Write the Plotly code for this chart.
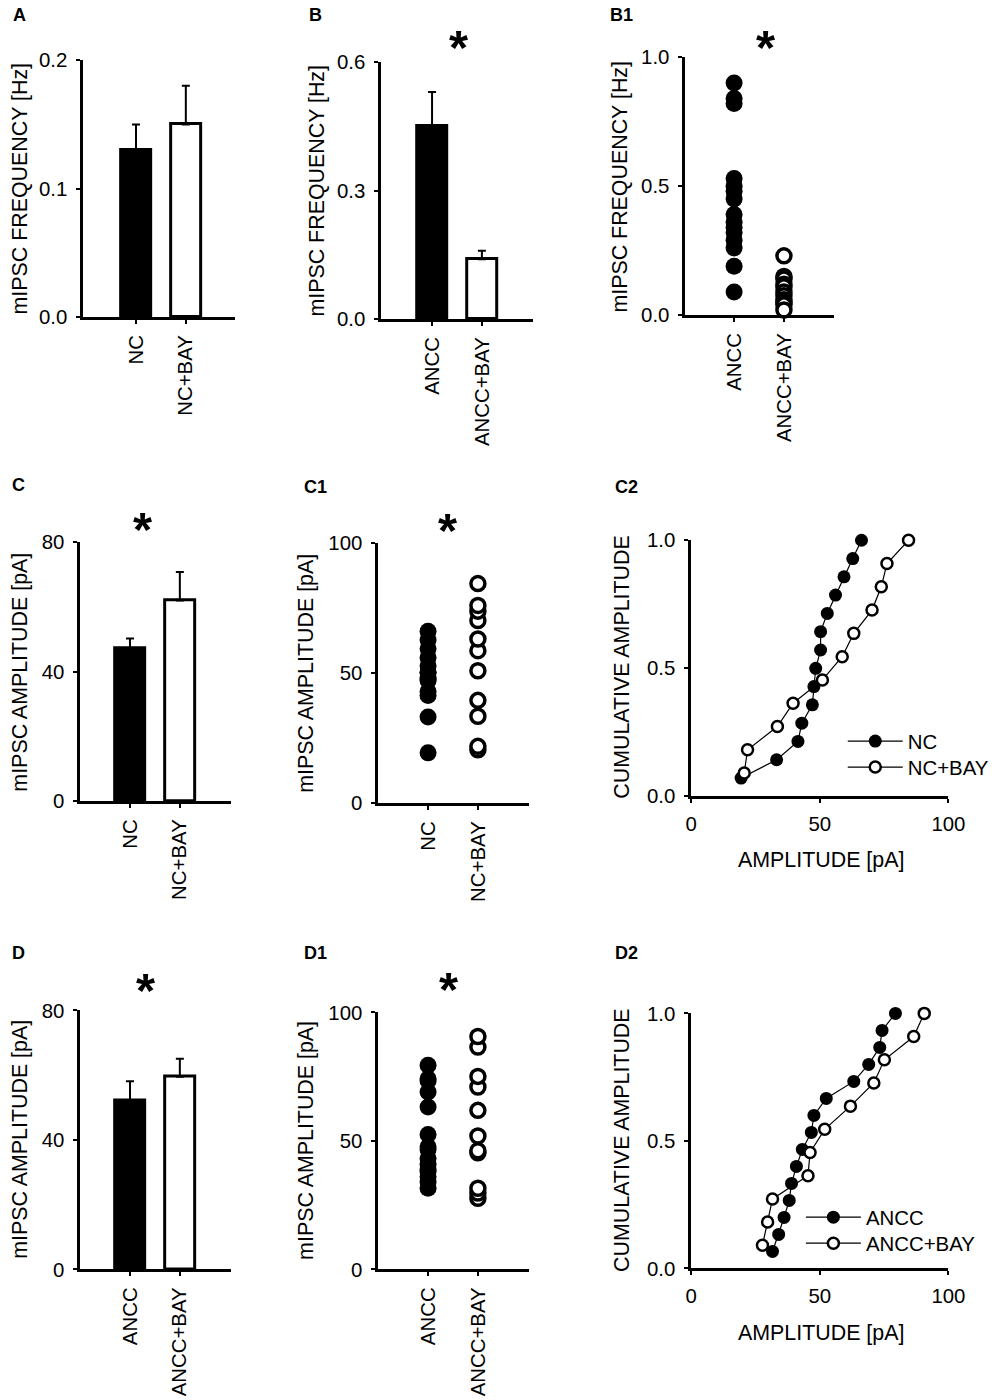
import numpy as np
import plotly.graph_objects as go

# groups
nc_groups = ["NC", "NC+BAY"]
ancc_groups = ["ANCC", "ANCC+BAY"]

# bar charts: mean and SEM
freq_nc_mean = [0.13, 0.15]
freq_nc_sem = [0.02, 0.03]
freq_ancc_mean = [0.45, 0.14]
freq_ancc_sem = [0.08, 0.02]
amp_nc_mean = [47.3, 62.0]
amp_nc_sem = [3.0, 8.8]
amp_ancc_mean = [52.1, 59.5]
amp_ancc_sem = [6.0, 5.6]

# single cells
freq_ancc_cells = [0.90, 0.84, 0.82, 0.53, 0.50, 0.48, 0.45, 0.39, 0.36, 0.34,
                   0.32, 0.29, 0.26, 0.19, 0.09]
freq_ancc_bay_cells = [0.23, 0.15, 0.14, 0.12, 0.11, 0.09, 0.075, 0.06, 0.05, 0.04, 0.02]
amp_nc_cells = [19.4, 33.2, 41.5, 43.0, 47.1, 47.7, 48.4, 50.3, 50.3, 52.9, 56.1,
                59.4, 62.8, 66.2]
amp_nc_bay_cells = [20.6, 21.9, 33.5, 39.6, 51.0, 58.7, 63.2, 70.3, 73.9, 76.1, 84.5]
amp_ancc_cells = [31.6, 34.0, 36.1, 38.1, 39.0, 40.9, 43.2, 46.7, 47.7, 52.5, 63.2,
                  69.0, 73.3, 74.2, 79.4]
amp_ancc_bay_cells = [27.7, 29.7, 31.6, 45.4, 46.2, 51.9, 61.9, 71.0, 75.1, 86.5, 90.6]

W, H = 996, 1400
FONT = "Liberation Sans, Arial, sans-serif"


# page px -> paper coords (corrected for how the page ends up in the screenshot)
def fx(p):
    return ((p - 2.6) / 0.980) / W


def fy(p):
    return 1 - ((p - 10.9) / 0.984) / H


def cumulative(vals):
    v = np.sort(np.array(vals))
    return v, np.arange(1, len(v) + 1) / len(v)


fig = go.Figure()


def bars(n, groups, mean, sem):
    ax = "" if n == 1 else str(n)
    fig.add_trace(go.Bar(
        x=groups, y=mean, width=0.6,
        marker=dict(color=["black", "white"], line=dict(color="black", width=3)),
        error_y=dict(type="data", symmetric=False, array=sem, arrayminus=[0, 0],
                     color="black", thickness=2, width=4),
        xaxis="x" + ax, yaxis="y" + ax, showlegend=False))


def dots(n, groups, a, b):
    ax = str(n)
    fig.add_trace(go.Scatter(
        x=[groups[0]] * len(a), y=a, mode="markers", cliponaxis=False,
        marker=dict(size=17, color="black", line=dict(width=0)),
        xaxis="x" + ax, yaxis="y" + ax, showlegend=False))
    fig.add_trace(go.Scatter(
        x=[groups[1]] * len(b), y=b, mode="markers", cliponaxis=False,
        marker=dict(size=14, color="white", line=dict(color="black", width=3.5)),
        xaxis="x" + ax, yaxis="y" + ax, showlegend=False))


def cum(n, groups, a, b, legs):
    ax = str(n)
    xa, ya = cumulative(a)
    xb, yb = cumulative(b)
    fig.add_trace(go.Scatter(
        x=xa, y=ya, mode="lines+markers", name=groups[0], cliponaxis=False,
        line=dict(color="black", width=1.2),
        marker=dict(size=13, color="black", line=dict(width=0)),
        xaxis="x" + ax, yaxis="y" + ax, legend=legs[0]))
    fig.add_trace(go.Scatter(
        x=xb, y=yb, mode="lines+markers", name=groups[1], cliponaxis=False,
        line=dict(color="black", width=1.2),
        marker=dict(size=11, color="white", line=dict(color="black", width=2.5)),
        xaxis="x" + ax, yaxis="y" + ax, legend=legs[1]))


bars(1, nc_groups, freq_nc_mean, freq_nc_sem)
bars(2, ancc_groups, freq_ancc_mean, freq_ancc_sem)
dots(3, ancc_groups, freq_ancc_cells, freq_ancc_bay_cells)
bars(4, nc_groups, amp_nc_mean, amp_nc_sem)
dots(5, nc_groups, amp_nc_cells, amp_nc_bay_cells)
cum(6, nc_groups, amp_nc_cells, amp_nc_bay_cells, ("legend", "legend2"))
bars(7, ancc_groups, amp_ancc_mean, amp_ancc_sem)
dots(8, ancc_groups, amp_ancc_cells, amp_ancc_bay_cells)
cum(9, ancc_groups, amp_ancc_cells, amp_ancc_bay_cells, ("legend3", "legend4"))

# panel boxes in px: x0, x1, y_top, y_bottom
boxes = {1: (80, 232, 60, 317), 2: (379, 531, 62, 319), 3: (684, 833, 57, 315),
         4: (77, 228, 542, 801), 5: (376, 527, 543, 803), 6: (690, 948, 540, 796),
         7: (77, 228, 1010, 1269), 8: (376, 527, 1012, 1269), 9: (690, 948, 1013, 1268)}
xr = {1: [-1.06, 1.98], 2: [-1.02, 2.02], 3: [-0.98, 2.0], 4: [-1.0, 2.02],
      5: [-1.0, 2.02], 7: [-1.0, 2.02], 8: [-1.0, 2.02]}
yset = {1: ([0, 0.2], [0, 0.1, 0.2], ".1f"), 2: ([0, 0.6], [0, 0.3, 0.6], ".1f"),
        3: ([0, 1], [0, 0.5, 1], ".1f"), 4: ([0, 80], [0, 40, 80], "d"),
        5: ([0, 100], [0, 50, 100], "d"), 6: ([0, 1], [0, 0.5, 1], ".1f"),
        7: ([0, 80], [0, 40, 80], "d"), 8: ([0, 100], [0, 50, 100], "d"),
        9: ([0, 1], [0, 0.5, 1], ".1f")}

base = dict(showline=True, linecolor="black", linewidth=2.5, ticks="outside",
            ticklen=4, tickwidth=1.5, tickcolor="black", showgrid=False,
            zeroline=False, fixedrange=True,
            tickfont=dict(family=FONT, size=20.4, color="black"))

layout_axes = {}
for n, (x0, x1, yt, yb) in boxes.items():
    s = "" if n == 1 else str(n)
    xa = dict(base, domain=[fx(x0), fx(x1)], anchor="y" + s, ticklabelstandoff=3)
    if n in (6, 9):
        xa.update(range=[0, 100], tickvals=[0, 50, 100])
    else:
        xa.update(type="category", range=xr[n], tickangle=-90)
    rng, tv, fmt = yset[n]
    ya = dict(base, domain=[fy(yb), fy(yt)], anchor="x" + s, range=rng,
              tickvals=tv, tickformat=fmt, ticklabelstandoff=5)
    layout_axes["xaxis" + s] = xa
    layout_axes["yaxis" + s] = ya

ann = []
letters = [("A", 8, 15), ("B", 305, 15), ("B1", 607, 15),
           ("C", 7, 485), ("C1", 300, 487), ("C2", 612, 487),
           ("D", 7, 953), ("D1", 300, 953), ("D2", 612, 953)]
for t, x, y in letters:
    ann.append(dict(text="<b>%s</b>" % t, x=fx(x), y=fy(y), xref="paper", yref="paper",
                    xanchor="left", yanchor="middle", showarrow=False,
                    font=dict(family=FONT, size=18, color="black")))
stars = [(457, 40), (765, 40), (140, 522), (446, 523), (143, 983), (447, 982)]
for x, y in stars:
    ann.append(dict(text="<b>*</b>", x=fx(x), y=fy(y + 7), xref="paper", yref="paper",
                    xanchor="center", yanchor="middle", showarrow=False,
                    font=dict(family=FONT, size=49, color="black")))
ytitles = [("mIPSC FREQUENCY [Hz]", 17, 188), ("mIPSC FREQUENCY [Hz]", 315, 190),
           ("mIPSC FREQUENCY [Hz]", 619, 186), ("mIPSC AMPLITUDE [pA]", 17, 672),
           ("mIPSC AMPLITUDE [pA]", 304, 673), ("CUMULATIVE AMPLITUDE", 621, 667),
           ("mIPSC AMPLITUDE [pA]", 17, 1139), ("mIPSC AMPLITUDE [pA]", 304, 1140),
           ("CUMULATIVE AMPLITUDE", 621, 1140)]
for t, x, y in ytitles:
    ann.append(dict(text=t, x=fx(x), y=fy(y), xref="paper", yref="paper",
                    xanchor="center", yanchor="middle", textangle=-90, showarrow=False,
                    font=dict(family=FONT, size=21.4, color="black")))
for y in (860, 1333):
    ann.append(dict(text="AMPLITUDE [pA]", x=fx(820), y=fy(y), xref="paper", yref="paper",
                    xanchor="center", yanchor="middle", showarrow=False,
                    font=dict(family=FONT, size=21.4, color="black")))

leg = dict(font=dict(family=FONT, size=20.4, color="black"), bgcolor="rgba(0,0,0,0)",
           xanchor="left", yanchor="middle", itemwidth=55,
           itemclick=False, itemdoubleclick=False)

fig.update_layout(
    width=W, height=H, margin=dict(l=0, r=0, t=0, b=0),
    paper_bgcolor="white", plot_bgcolor="white",
    font=dict(family=FONT, size=20, color="black"),
    annotations=ann, bargap=0,
    legend=dict(leg, x=fx(842), y=fy(741)),
    legend2=dict(leg, x=fx(842), y=fy(767)),
    legend3=dict(leg, x=fx(800), y=fy(1217)),
    legend4=dict(leg, x=fx(800), y=fy(1243)),
    **layout_axes)

fig.write_html("out.html", config={"displayModeBar": False},
               post_script="document.body.style.margin='0';"
                           "document.body.style.overflow='hidden';")
